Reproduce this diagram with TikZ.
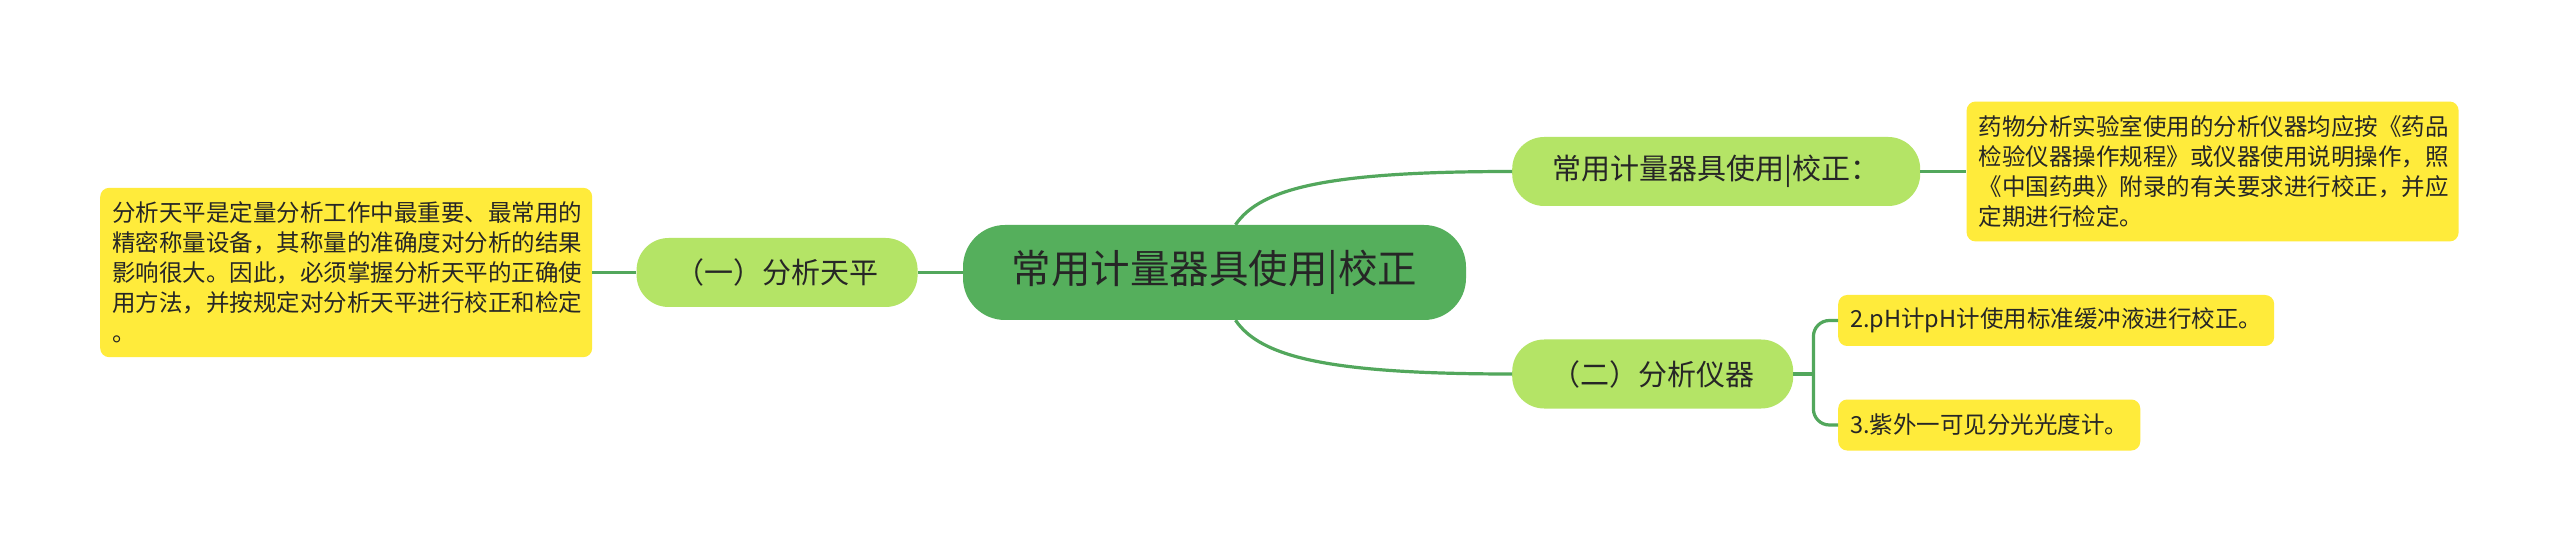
\documentclass[tikz,border=0pt]{standalone}
\usepackage{fontspec}
\setmainfont{Noto Sans CJK SC}
\usepackage{xcolor}
\usetikzlibrary{positioning}

\definecolor{rootgreen}{HTML}{55AF5C}
\definecolor{topicgreen}{HTML}{B4E466}
\definecolor{noteyellow}{HTML}{FFEB3B}
\definecolor{linkgreen}{HTML}{52A75C}
\definecolor{ink}{HTML}{262626}

\begin{document}
\begin{tikzpicture}[
    x=1pt, y=-1pt,
    text=ink,
    root/.style={fill=rootgreen, rounded corners=42pt, align=center, minimum width=503pt, minimum height=95pt, inner sep=0pt, font=\fontsize{39.5}{44}\selectfont},
    topic/.style={fill=topicgreen, rounded corners=32pt, align=center, minimum height=69pt, inner sep=0pt, font=\fontsize{29}{32}\selectfont},
    note/.style={fill=noteyellow, rounded corners=9pt, align=left, text width=468pt, inner xsep=12pt, inner ysep=14pt, font=\fontsize{23.5}{30}\selectfont},
    item/.style={fill=noteyellow, rounded corners=9pt, minimum height=51pt, inner xsep=12pt, inner ysep=0pt, font=\fontsize{23.5}{28}\selectfont},
    link/.style={draw=linkgreen, line width=3.2pt}
]
\path[use as bounding box, fill=white] (0,0) rectangle (2560,553);

\node[root] (root) at (1214.5,272.5) {常用计量器具使用|校正};
\node[topic, minimum width=281pt, left=45pt of root] (balance) {（一）分析天平};
\node[note, left=44pt of balance] (balance_note) {分析天平是定量分析工作中最重要、最常用的\\精密称量设备，其称量的准确度对分析的结果\\影响很大。因此，必须掌握分析天平的正确使\\用方法，并按规定对分析天平进行校正和检定\\。};

\node[topic, minimum width=408pt, anchor=west] (calib) at (1512,171.5) {常用计量器具使用|校正：};
\node[note, right=46pt of calib] (calib_note) {药物分析实验室使用的分析仪器均应按《药品\\检验仪器操作规程》或仪器使用说明操作，照\\《中国药典》附录的有关要求进行校正，并应\\定期进行检定。};

\node[topic, minimum width=281pt, anchor=west] (instr) at (1512,374) {（二）分析仪器};
\node[item, anchor=west] (ph) at (1838,320.5) {2.pH计pH计使用标准缓冲液进行校正。};
\node[item, anchor=west] (uv) at (1838,425) {3.紫外一可见分光光度计。};
\coordinate[right=20pt of instr] (fork);

\draw[link] (root) -- (balance);
\draw[link] (balance) -- (balance_note);
\draw[link] ([xshift=21pt]root.north) .. controls +(25,-37) and +(-183,0) .. (calib.west);
\draw[link] ([xshift=21pt]root.south) .. controls +(25,37) and +(-183,0) .. (instr.west);
\draw[link] (calib) -- (calib_note);
\draw[link] (instr) -- (fork);
\draw[link, rounded corners=16pt] (ph.west) -| (fork) |- (uv.west);
\end{tikzpicture}
\end{document}
